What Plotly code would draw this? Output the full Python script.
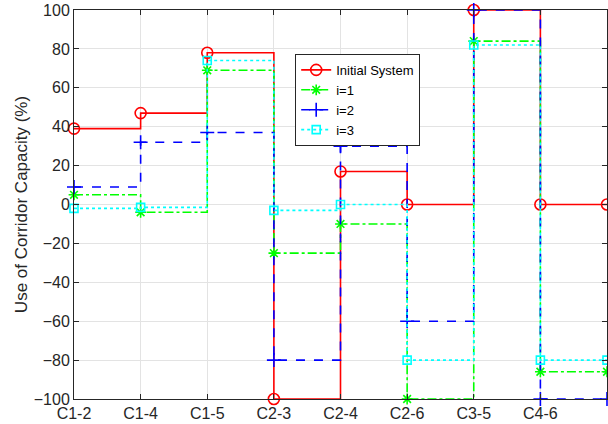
import plotly.graph_objects as go

categories = ["C1-2", "C1-4", "C1-5", "C2-3", "C2-4", "C2-6", "C3-5", "C4-6", ""]
x_pos = [1, 2, 3, 4, 5, 6, 7, 8, 9]

initial_system = [39, 47, 78, -100, 17, 0, 100, 0, 0]
iter_1 = [5, -4, 69, -25, -10, -100, 84, -86, -86]
iter_2 = [9, 32, 37, -80, 30, -60, 100, -100, -100]
iter_3 = [-2, -1.5, 74, -3, 0, -80, 82, -80, -80]

series = [
    ("Initial System", initial_system, "#ff0000", "solid", "circle-open", 11),
    ("i=1", iter_1, "#00ff00", "dashdot", "asterisk-open", 9),
    ("i=2", iter_2, "#0000ff", "dash", "cross-thin-open", 10),
    ("i=3", iter_3, "#00ffff", "dot", "square-open", 8),
]

fig = go.Figure()
for name, vals, color, dash, sym, size in series:
    fig.add_trace(go.Scatter(
        x=x_pos, y=vals, name=name, mode="lines+markers",
        line=dict(color=color, width=1.6, dash=dash, shape="hv"),
        marker=dict(symbol=sym, size=size, color=color, line=dict(color=color, width=1.6)),
        cliponaxis=False,
    ))

axis_common = dict(
    showline=True, linecolor="#262626", linewidth=1, mirror="ticks",
    ticks="inside", ticklen=5, tickcolor="#262626",
    showgrid=True, gridcolor="#e3e3e3", gridwidth=1,
    zeroline=False,
    tickfont=dict(family="Liberation Sans, Arial", size=16, color="#262626"),
)

fig.update_layout(
    width=608, height=424,
    margin=dict(l=74, r=1, t=10, b=25),
    paper_bgcolor="white", plot_bgcolor="white",
    xaxis=dict(range=[1, 9], tickvals=x_pos, ticktext=categories, **axis_common),
    yaxis=dict(range=[-100, 100], tickvals=list(range(-100, 101, 20)),
               title=dict(text="Use of Corridor Capacity (%)", standoff=1,
                          font=dict(family="Liberation Sans, Arial", size=17, color="#262626")),
               **axis_common),
    legend=dict(x=0.415, y=0.887, xanchor="left", yanchor="top",
                bgcolor="white", bordercolor="#262626", borderwidth=1,
                font=dict(family="Liberation Sans, Arial", size=13, color="#000000"),
                tracegroupgap=0, itemwidth=30),
    showlegend=True,
)

fig.write_html("out.html", config={"displayModeBar": False},
               post_script="document.body.style.margin='0';document.body.style.padding='0';")
